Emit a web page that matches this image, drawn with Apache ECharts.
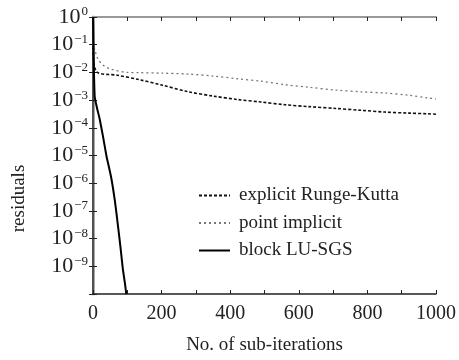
<!DOCTYPE html>
<html>
<head>
<meta charset="utf-8">
<script src="https://cdn.jsdelivr.net/npm/echarts@6/dist/echarts.min.js"></script>
<style>html,body{margin:0;padding:0;background:#fff;}#c{width:459px;height:360px;}</style>
</head>
<body>
<div id="c"></div>
<script>
// Data
var seriesNames = ['explicit Runge-Kutta', 'point implicit', 'block LU-SGS'];
var explicitRK = [[0,8e-2],[10,1.07e-2],[71,7.9e-3],[134,5.5e-3],[200,3.5e-3],[278,2.0e-3],[350,1.4e-3],[421,1.05e-3],[490,8.5e-4],[560,6.8e-4],[630,5.8e-4],[708,5.0e-4],[780,4.3e-4],[851,3.7e-4],[920,3.4e-4],[976,3.2e-4],[1000,3.1e-4]];
var pointImplicit = [[0,1.2e-1],[13,3.3e-2],[30,1.8e-2],[53,1.3e-2],[100,1.0e-2],[134,9.8e-3],[200,9.4e-3],[278,8.7e-3],[350,7.4e-3],[421,5.9e-3],[490,4.8e-3],[560,3.6e-3],[630,2.9e-3],[708,2.3e-3],[780,2.0e-3],[851,1.8e-3],[920,1.5e-3],[976,1.2e-3],[1000,1.1e-3]];
var blockLUSGS = [[0,1],[2,3e-2],[5,1.3e-3],[12,5e-4],[19,2.2e-4],[29,5e-5],[39,1e-5],[53,1.6e-6],[64,2.2e-7],[72,3.5e-8],[80,5e-9],[87,8e-10],[93,2.5e-10],[97,1e-10]];
var xTickLabels = [0, 200, 400, 600, 800, 1000];
var yExponents = [0,-1,-2,-3,-4,-5,-6,-7,-8,-9];

var FONT = 'Liberation Serif';
var TXT = '#222';
var chart = echarts.init(document.getElementById('c'), null, {renderer:'canvas'});

function yFmt(v){
  var e = Math.round(Math.log10(v));
  if (yExponents.indexOf(e) < 0) return '';
  var s = e === 0 ? '0' : '\u2212' + (-e);
  return '{b|10}{s|' + s + '}';
}
function xFmt(v){
  return xTickLabels.indexOf(v) >= 0 ? String(v) : '';
}

var option = {
  animation: false,
  backgroundColor: '#fff',
  grid: {left: 93, right: 17, top: 17, bottom: 54, containLabel: false},
  legend: {
    orient: 'vertical',
    left: 193, top: 181,
    itemWidth: 31, itemHeight: 14, itemGap: 8.5,
    itemStyle: {opacity: 0},
    textStyle: {fontFamily: FONT, fontSize: 19, color: TXT, padding: [0,0,0,4]},
    data: seriesNames
  },
  xAxis: [{
    type: 'value', min: 0, max: 1000, interval: 100,
    name: 'No. of sub-iterations', nameLocation: 'middle', nameGap: 42,
    nameTextStyle: {fontFamily: FONT, fontSize: 19, color: TXT},
    axisLine: {show: true, lineStyle: {color: '#222', width: 1.5}},
    axisTick: {show: true, inside: true, length: 4, lineStyle: {color: '#222'}},
    axisLabel: {formatter: xFmt, fontFamily: FONT, fontSize: 20, color: TXT, margin: 10, showMaxLabel: true},
    splitLine: {show: false}
  },{
    type: 'value', min: 0, max: 1000, interval: 100, position: 'top',
    axisLine: {show: true, lineStyle: {color: '#999', width: 2}},
    axisTick: {show: true, inside: true, length: 4, lineStyle: {color: '#222'}},
    axisLabel: {show: false}, splitLine: {show: false}
  }],
  yAxis: [{
    type: 'log', logBase: 10, min: 1e-10, max: 1, interval: 1,
    name: 'residuals', nameLocation: 'middle', nameGap: 64, nameRotate: 90,
    nameTextStyle: {fontFamily: FONT, fontSize: 19, color: TXT, padding: [0,86,0,0]},
    axisLine: {show: true, lineStyle: {color: '#aaa', width: 3}},
    axisTick: {show: true, inside: true, length: 4, lineStyle: {color: '#222'}},
    axisLabel: {formatter: yFmt, margin: 5, rich: {
      b: {fontFamily: FONT, fontSize: 22, color: TXT},
      s: {fontFamily: FONT, fontSize: 13, color: TXT, padding: [0,0,10,1]}
    }},
    splitLine: {show: false}
  },{
    type: 'log', logBase: 10, min: 1e-10, max: 1, interval: 1, position: 'right',
    axisLine: {show: true, lineStyle: {color: '#333', width: 1.5}},
    axisTick: {show: true, inside: true, length: 4, lineStyle: {color: '#222'}},
    axisLabel: {show: false}, splitLine: {show: false}
  }],
  series: [{
    name: seriesNames[0], type: 'line', data: explicitRK, showSymbol: false, symbol: 'none', smooth: 0.3,
    lineStyle: {color: '#111', width: 1.6, type: [3,2]}, itemStyle: {color: '#111'}
  },{
    name: seriesNames[1], type: 'line', data: pointImplicit, showSymbol: false, symbol: 'none', smooth: 0.3,
    lineStyle: {color: '#777', width: 1.3, type: [2,3]}, itemStyle: {color: '#777'}
  },{
    name: seriesNames[2], type: 'line', data: blockLUSGS, showSymbol: false, symbol: 'none', smooth: 0.15,
    lineStyle: {color: '#000', width: 2}, itemStyle: {color: '#000'}
  }]
};
chart.setOption(option);
</script>
</body>
</html>
